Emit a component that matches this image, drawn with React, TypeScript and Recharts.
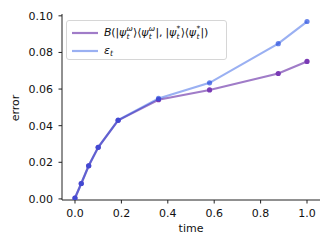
import React from 'react';
import { LineChart, Line, XAxis, YAxis, Label } from 'recharts';

const timeValues = [0, 0.027, 0.059, 0.1, 0.186, 0.36, 0.58, 0.876, 1.0];
const boundValues = [0.0005, 0.0084, 0.0181, 0.0282, 0.0429, 0.0542, 0.0595, 0.0685, 0.0751];
const epsValues = [0.0005, 0.0084, 0.0181, 0.0282, 0.043, 0.0549, 0.0634, 0.0848, 0.0969];
const xTicks = [0, 0.2, 0.4, 0.6, 0.8, 1.0];
const yTicks = [0, 0.02, 0.04, 0.06, 0.08, 0.1];

const data = timeValues.map((t, i) => ({ time: t, bound: boundValues[i], eps: epsValues[i] }));

const font = '"DejaVu Sans", sans-serif';
const axisColor = '#222';
const purpleLine = '#a07cc8';
const purpleDot = '#7a3ab5';
// blue is drawn translucent so the shared part turns blue-violet like the reference
const blueLine = '#033ade';
const blueDot = '#2a50e0';

// psi with stacked superscript / subscript t
const Psi = ({ sup }: { sup: string }) => (
    <span style={{ whiteSpace: 'nowrap' }}>
        <i>ψ</i>
        <span style={{ display: 'inline-block', verticalAlign: '-0.35em', fontSize: '0.68em', lineHeight: '0.95em', marginLeft: 0.5, marginRight: 0.5 }}>
            <i style={{ display: 'block' }}>{sup}</i>
            <i style={{ display: 'block' }}>t</i>
        </span>
    </span>
);

const LegendBox = () => (
    <div style={{
        position: 'absolute', left: 66, top: 20, width: 161, height: 40,
        border: '1px solid #d6d6d6', borderRadius: 3, background: 'rgba(255,255,255,0.8)',
        fontFamily: font, fontSize: 11, color: '#111', boxSizing: 'border-box'
    }}>
        <div style={{ position: 'absolute', left: 5, top: 3, height: 17, display: 'flex', alignItems: 'center' }}>
            <svg width={26} height={4} style={{ marginRight: 6 }}>
                <line x1={0} y1={2} x2={26} y2={2} stroke={purpleLine} strokeWidth={2.2} />
            </svg>
            <span style={{ whiteSpace: 'nowrap', letterSpacing: -0.2 }}>
                <i>B</i>(|<Psi sup="ω" />⟩⟨<Psi sup="ω" />|, |<Psi sup="*" />⟩⟨<Psi sup="*" />|)
            </span>
        </div>
        <div style={{ position: 'absolute', left: 5, top: 21, height: 17, display: 'flex', alignItems: 'center' }}>
            <svg width={26} height={4} style={{ marginRight: 6 }}>
                <line x1={0} y1={2} x2={26} y2={2} stroke={blueLine} strokeOpacity={0.4} strokeWidth={2.2} />
            </svg>
            <span>
                <i>ε</i><i style={{ fontSize: '0.7em', verticalAlign: '-0.25em' }}>t</i>
            </span>
        </div>
    </div>
);

const tickStyle = { fill: '#111', fontSize: 11, fontFamily: font };

export default function App() {
    return (
        <div style={{ position: 'absolute', left: 0, top: 0, width: 332, height: 249, background: '#fff' }}>
            <LineChart width={332} height={249} data={data} margin={{ top: 14, right: 12, bottom: 14, left: 0 }}>
                <XAxis
                    dataKey="time" type="number" domain={[-0.056, 1.056]} ticks={xTicks} allowDataOverflow
                    tickFormatter={(v: number) => v.toFixed(1)} tick={tickStyle} tickSize={3.5} tickMargin={5.5}
                    axisLine={{ stroke: axisColor, strokeWidth: 1 }} tickLine={{ stroke: axisColor, strokeWidth: 1 }}
                    height={35}
                >
                    <Label value="time" position="insideBottom" offset={3} style={{ fill: '#111', fontSize: 11, fontFamily: font }} />
                </XAxis>
                <XAxis xAxisId="top" orientation="top" type="number" domain={[0, 1]} height={0} tick={false} tickLine={false}
                    axisLine={{ stroke: axisColor, strokeWidth: 1 }} />
                <YAxis
                    type="number" domain={[-0.0006, 0.101]} ticks={yTicks} allowDataOverflow
                    tickFormatter={(v: number) => v.toFixed(2)} tick={tickStyle} tickSize={3.5} tickMargin={5.5}
                    axisLine={{ stroke: axisColor, strokeWidth: 1 }} tickLine={{ stroke: axisColor, strokeWidth: 1 }}
                    width={62}
                >
                    <Label content={() => (
                        <text x={15} y={108} transform="rotate(-90 15 108)" textAnchor="middle" dominantBaseline="central"
                            style={{ fill: '#111', fontSize: 11, fontFamily: font }}>error</text>
                    )} />
                </YAxis>
                <YAxis yAxisId="right" orientation="right" type="number" domain={[0, 1]} width={0} tick={false} tickLine={false}
                    axisLine={{ stroke: axisColor, strokeWidth: 1 }} />
                <Line dataKey="bound" stroke={purpleLine} strokeWidth={2.2} isAnimationActive={false}
                    dot={{ r: 2.6, fill: purpleDot, stroke: 'none' }} activeDot={false} />
                <Line dataKey="eps" stroke={blueLine} strokeOpacity={0.4} strokeWidth={2.2} isAnimationActive={false}
                    dot={{ r: 2.6, fill: blueDot, fillOpacity: 0.7, stroke: 'none' }} activeDot={false} />
            </LineChart>
            <LegendBox />
        </div>
    );
}
